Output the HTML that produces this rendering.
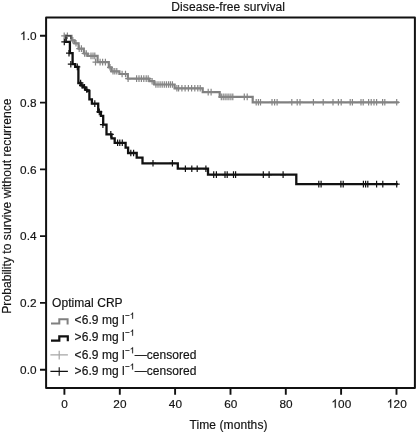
<!DOCTYPE html>
<html><head><meta charset="utf-8"><style>
html,body{margin:0;padding:0;background:#fff;}
svg{display:block;will-change:transform;filter:blur(0.3px);}
text{font-family:"Liberation Sans",sans-serif;fill:#141414;stroke:#141414;stroke-width:0.18px;}
.h{fill-opacity:0;stroke-opacity:0;}
.one path{fill:#141414;stroke:#141414;stroke-width:0.18px;vector-effect:non-scaling-stroke;}
</style></head><body>
<svg width="417" height="432" viewBox="0 0 417 432">
<rect width="417" height="432" fill="#fff"/>
<text x="228.2" y="10.5" font-size="12" letter-spacing="0.08" text-anchor="middle">Disease-free survival</text>
<g fill="none" stroke="#111" stroke-width="2" transform="translate(0,0.3)">
<path d="M46.1,17.3H414.9V387.6H46.1Z" stroke-linejoin="round"/>
<path d="M40,369.4H46M40,302.6H46M40,235.8H46M40,169.1H46M40,102.3H46M40,35.5H46" stroke-width="1.9"/>
<path d="M64.4,388V394.5M119.8,388V394.5M175.1,388V394.5M230.5,388V394.5M285.8,388V394.5M341.1,388V394.5M396.5,388V394.5" stroke-width="1.9"/>
</g>
<g font-size="11.8" letter-spacing="0.1"><text x="36.7" y="373.9" text-anchor="end">0.0</text><text x="36.7" y="307.1" text-anchor="end">0.2</text><text x="36.7" y="240.3" text-anchor="end">0.4</text><text x="36.7" y="173.6" text-anchor="end">0.6</text><text x="36.7" y="106.8" text-anchor="end">0.8</text><text x="36.7" y="40.0" text-anchor="end"><tspan class="h">1</tspan>.0</text><text x="64.7" y="407.8" text-anchor="middle">0</text><text x="120.0" y="407.8" text-anchor="middle">20</text><text x="175.4" y="407.8" text-anchor="middle">40</text><text x="230.8" y="407.8" text-anchor="middle">60</text><text x="286.1" y="407.8" text-anchor="middle">80</text><text x="341.4" y="407.8" text-anchor="middle"><tspan class="h">1</tspan>00</text><text x="396.8" y="407.8" text-anchor="middle"><tspan class="h">1</tspan>20</text></g>
<text transform="translate(10.6,206.1) rotate(-90)" font-size="12.15" text-anchor="middle">Probability to survive without recurrence</text>
<text x="228.5" y="428.8" font-size="12" letter-spacing="0.1" text-anchor="middle">Time (months)</text>
<g fill="none" stroke-linejoin="miter" stroke-linecap="butt" transform="translate(0,0.3)">
<path d="M64.4,35.5 H65.9 V41.6 H69.9 V52.9 H72.6 V63.9 H75.2 V66.6 H78.4 V82.7 H80.6 V85 H83 V87 H85.5 V89.5 H87.2 V90.6 H89.4 V99 H91.9 V103.3 H98.2 V111.6 H100.9 V115.6 H103.2 V124.4 H106.5 V134.1 H111.5 V138 H114.7 V142.5 H125.6 V147.4 H128.1 V152.7 H136.7 V157.4 H142.5 V163 H177.8 V168.4 H208 V174.3 H296.3 V183.8 H397.9" stroke="#111" stroke-width="2.3"/>
<path d="M61.3,41.6H67.3M64.3,38.3V44.9M66.0,52.9H72.0M69.0,49.6V56.2M67.8,63.9H73.8M70.8,60.6V67.2M74.3,66.6H80.3M77.3,63.3V69.9M77.6,82.7H83.6M80.6,79.4V86.0M79.0,85.0H85.0M82.0,81.7V88.3M81.5,87.0H87.5M84.5,83.7V90.3M83.9,89.5H89.9M86.9,86.2V92.8M91.8,103.3H97.8M94.8,100.0V106.6M96.3,111.6H102.3M99.3,108.3V114.9M99.9,124.4H105.9M102.9,121.1V127.7M107.8,134.1H113.8M110.8,130.8V137.4M114.6,142.5H120.6M117.6,139.2V145.8M116.8,142.5H122.8M119.8,139.2V145.8M119.3,142.5H125.3M122.3,139.2V145.8M127.8,152.7H133.8M130.8,149.4V156.0M130.6,152.7H136.6M133.6,149.4V156.0M150.0,163.0H156.0M153.0,159.7V166.3M169.4,163.0H175.4M172.4,159.7V166.3M182.4,168.4H188.4M185.4,165.1V171.7M188.8,168.4H194.8M191.8,165.1V171.7M194.2,168.4H200.2M197.2,165.1V171.7M202.9,168.4H208.9M205.9,165.1V171.7M210.7,174.3H216.7M213.7,171.0V177.6M213.4,174.3H219.4M216.4,171.0V177.6M222.0,174.3H228.0M225.0,171.0V177.6M224.2,174.3H230.2M227.2,171.0V177.6M230.5,174.3H236.5M233.5,171.0V177.6M232.6,174.3H238.6M235.6,171.0V177.6M260.3,174.3H266.3M263.3,171.0V177.6M266.1,174.3H272.1M269.1,171.0V177.6M280.1,174.3H286.1M283.1,171.0V177.6M315.8,183.8H321.8M318.8,180.5V187.1M318.1,183.8H324.1M321.1,180.5V187.1M337.9,183.8H343.9M340.9,180.5V187.1M340.2,183.8H346.2M343.2,180.5V187.1M360.4,183.8H366.4M363.4,180.5V187.1M362.6,183.8H368.6M365.6,180.5V187.1M364.8,183.8H370.8M367.8,180.5V187.1M373.6,183.8H379.6M376.6,180.5V187.1M379.8,183.8H385.8M382.8,180.5V187.1M393.7,183.8H399.7M396.7,180.5V187.1" stroke="#111" stroke-width="1.2"/>
<path d="M64.4,35.5 H71.5 V40 H74.5 V43 H78.6 V48.3 H83.8 V53.2 H87.8 V55.6 H97.6 V61.8 H108.8 V67 H111.4 V71 H119.4 V73.7 H127.8 V78.3 H149.4 V80.9 H154.2 V84.2 H174.6 V88 H202.7 V91.8 H219.7 V96.6 H252.7 V102.0 H398.8" stroke="#808080" stroke-width="2.2"/>
<path d="M61.2,35.5H67.2M64.2,32.2V38.8M64.4,35.5H70.4M67.4,32.2V38.8M69.8,40.0H75.8M72.8,36.7V43.3M73.0,43.0H79.0M76.0,39.7V46.3M76.2,48.3H82.2M79.2,45.0V51.6M78.4,48.3H84.4M81.4,45.0V51.6M81.6,53.2H87.6M84.6,49.9V56.5M83.3,53.2H89.3M86.3,49.9V56.5M88.0,55.6H94.0M91.0,52.3V58.9M90.0,55.6H96.0M93.0,52.3V58.9M91.8,55.6H97.8M94.8,52.3V58.9M92.5,61.8H98.5M95.5,58.5V65.1M97.1,61.8H103.1M100.1,58.5V65.1M99.6,61.8H105.6M102.6,58.5V65.1M102.4,61.8H108.4M105.4,58.5V65.1M107.0,67.0H113.0M110.0,63.7V70.3M110.0,71.0H116.0M113.0,67.7V74.3M111.8,71.0H117.8M114.8,67.7V74.3M113.8,71.0H119.8M116.8,67.7V74.3M119.1,73.7H125.1M122.1,70.4V77.0M122.5,73.7H128.5M125.5,70.4V77.0M125.1,78.3H131.1M128.1,75.0V81.6M133.6,78.3H139.6M136.6,75.0V81.6M136.0,78.3H142.0M139.0,75.0V81.6M138.4,78.3H144.4M141.4,75.0V81.6M140.8,78.3H146.8M143.8,75.0V81.6M143.2,78.3H149.2M146.2,75.0V81.6M145.2,78.3H151.2M148.2,75.0V81.6M149.1,80.9H155.1M152.1,77.6V84.2M152.9,84.2H158.9M155.9,80.9V87.5M155.0,84.2H161.0M158.0,80.9V87.5M157.1,84.2H163.1M160.1,80.9V87.5M159.2,84.2H165.2M162.2,80.9V87.5M161.3,84.2H167.3M164.3,80.9V87.5M163.4,84.2H169.4M166.4,80.9V87.5M165.5,84.2H171.5M168.5,80.9V87.5M167.4,84.2H173.4M170.4,80.9V87.5M169.4,84.2H175.4M172.4,80.9V87.5M173.9,88.0H179.9M176.9,84.7V91.3M175.6,88.0H181.6M178.6,84.7V91.3M178.9,88.0H184.9M181.9,84.7V91.3M182.1,88.0H188.1M185.1,84.7V91.3M185.4,88.0H191.4M188.4,84.7V91.3M188.6,88.0H194.6M191.6,84.7V91.3M191.8,88.0H197.8M194.8,84.7V91.3M194.8,88.0H200.8M197.8,84.7V91.3M197.2,88.0H203.2M200.2,84.7V91.3M205.2,91.8H211.2M208.2,88.5V95.1M208.1,91.8H214.1M211.1,88.5V95.1M218.3,96.6H224.3M221.3,93.3V99.9M220.2,96.6H226.2M223.2,93.3V99.9M222.1,96.6H228.1M225.1,93.3V99.9M224.0,96.6H230.0M227.0,93.3V99.9M225.9,96.6H231.9M228.9,93.3V99.9M227.9,96.6H233.9M230.9,93.3V99.9M229.8,96.6H235.8M232.8,93.3V99.9M241.3,96.6H247.3M244.3,93.3V99.9M244.2,96.6H250.2M247.2,93.3V99.9M253.2,102.0H259.2M256.2,98.7V105.3M255.4,102.0H261.4M258.4,98.7V105.3M257.5,102.0H263.5M260.5,98.7V105.3M269.0,102.0H275.0M272.0,98.7V105.3M271.6,102.0H277.6M274.6,98.7V105.3M274.1,102.0H280.1M277.1,98.7V105.3M288.8,102.0H294.8M291.8,98.7V105.3M294.2,102.0H300.2M297.2,98.7V105.3M297.0,102.0H303.0M300.0,98.7V105.3M310.4,102.0H316.4M313.4,98.7V105.3M320.2,102.0H326.2M323.2,98.7V105.3M330.0,102.0H336.0M333.0,98.7V105.3M335.4,102.0H341.4M338.4,98.7V105.3M338.2,102.0H344.2M341.2,98.7V105.3M347.2,102.0H353.2M350.2,98.7V105.3M349.4,102.0H355.4M352.4,98.7V105.3M358.0,102.0H364.0M361.0,98.7V105.3M360.2,102.0H366.2M363.2,98.7V105.3M365.6,102.0H371.6M368.6,98.7V105.3M368.2,102.0H374.2M371.2,98.7V105.3M371.0,102.0H377.0M374.0,98.7V105.3M373.6,102.0H379.6M376.6,98.7V105.3M379.6,102.0H385.6M382.6,98.7V105.3M381.8,102.0H387.8M384.8,98.7V105.3M393.7,102.0H399.7M396.7,98.7V105.3" stroke="#858585" stroke-width="1.2"/>
<path d="M65.9,41V35.4H70.8V38.6" stroke="#4a4a4a" stroke-width="1.3"/>
</g>
<g font-size="12" letter-spacing="0.06">
<text x="52" y="306.6">Optimal CRP</text>
<text x="74.6" y="324">&lt;6.9 mg l<tspan font-size="8" dx="0.3" dy="-5.6">−</tspan><tspan font-size="8.5" dy="0.3" class="h">1</tspan></text>
<text x="74.6" y="341">&gt;6.9 mg l<tspan font-size="8" dx="0.3" dy="-5.6">−</tspan><tspan font-size="8.5" dy="0.3" class="h">1</tspan></text>
<text x="74.6" y="358.6">&lt;6.9 mg l<tspan font-size="8" dx="0.3" dy="-5.6">−</tspan><tspan font-size="8.5" dy="0.3" class="h">1</tspan><tspan dy="5.3">—censored</tspan></text>
<text x="74.6" y="374.9">&gt;6.9 mg l<tspan font-size="8" dx="0.3" dy="-5.6">−</tspan><tspan font-size="8.5" dy="0.3" class="h">1</tspan><tspan dy="5.3">—censored</tspan></text>
</g>
<g fill="none">
<path d="M51,323.5H59.3V319.2H67.6V324.5" stroke="#808080" stroke-width="2"/>
<path d="M51,340.6H59.3V336.3H67.8V341.3" stroke="#111" stroke-width="2.2"/>
<path d="M50.4,354.9H67.9M59.2,350.7V359.4" stroke="#a6a6a6" stroke-width="1.2"/>
<path d="M50.4,371.4H67.9M59.2,367.3V375.8" stroke="#111" stroke-width="1.1"/>
</g>
<g class="one"><path d="M763 0H583V1147Q518 1085 412.5 1023T223 930V1104Q374 1175 487 1276T647 1472H763V0Z" transform="translate(19.98,40.00) scale(0.005762,-0.005762)"/><path d="M763 0H583V1147Q518 1085 412.5 1023T223 930V1104Q374 1175 487 1276T647 1472H763V0Z" transform="translate(331.40,407.80) scale(0.005762,-0.005762)"/><path d="M763 0H583V1147Q518 1085 412.5 1023T223 930V1104Q374 1175 487 1276T647 1472H763V0Z" transform="translate(386.80,407.80) scale(0.005762,-0.005762)"/><path d="M763 0H583V1147Q518 1085 412.5 1023T223 930V1104Q374 1175 487 1276T647 1472H763V0Z" transform="translate(129.87,318.70) scale(0.004150,-0.004150)"/><path d="M763 0H583V1147Q518 1085 412.5 1023T223 930V1104Q374 1175 487 1276T647 1472H763V0Z" transform="translate(129.87,335.70) scale(0.004150,-0.004150)"/><path d="M763 0H583V1147Q518 1085 412.5 1023T223 930V1104Q374 1175 487 1276T647 1472H763V0Z" transform="translate(129.87,353.30) scale(0.004150,-0.004150)"/><path d="M763 0H583V1147Q518 1085 412.5 1023T223 930V1104Q374 1175 487 1276T647 1472H763V0Z" transform="translate(129.87,369.60) scale(0.004150,-0.004150)"/></g>
</svg>
</body></html>
